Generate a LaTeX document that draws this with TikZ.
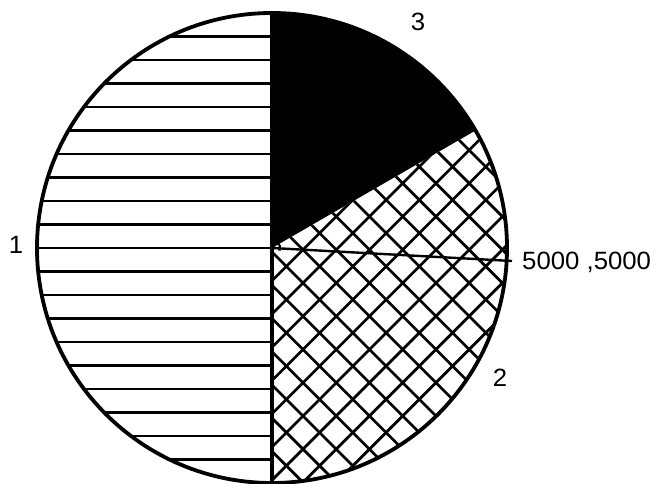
\documentclass[tikz,border=0pt]{standalone}
\usepackage{fontspec}
\setmainfont{Liberation Sans}
\usetikzlibrary{calc}
\begin{document}
\begin{tikzpicture}[x=1pt,y=1pt,
  hatch/.style={line width=2.7pt,black},
  lbl/.style={font=\fontsize{25}{25}\selectfont\addfontfeature{FakeStretch=1.03},inner sep=0pt}]
\useasboundingbox (0,0) rectangle (661,484);
\coordinate (O) at (272,236);
% black sector
\fill[black] (O) -- (272,471) arc[start angle=90,end angle=30,radius=235] -- cycle;
% horizontal stripes, left half
\begin{scope}
  \clip (O) -- (272,471) arc[start angle=90,end angle=270,radius=235] -- cycle;
  \foreach \k in {-10,...,10} {
    \draw[hatch] (30,{236+\k*23.5}) -- (280,{236+\k*23.5});
  }
\end{scope}
% cross hatch sector
\begin{scope}
  \clip (O) -- ($(O)+(30:235)$) arc[start angle=30,end angle=-90,radius=235] -- cycle;
  \foreach \i in {-9,...,15} {
    \draw[hatch] ({102+\i*33.23-10},-10) -- ({102+\i*33.23+500},500);
    \draw[hatch] ({504+\i*33.23+10},-10) -- ({504+\i*33.23-500},500);
  }
\end{scope}
% outlines
\draw[line width=3.8pt] (O) circle[radius=235];
\draw[line width=3.2pt] (272,471) -- (272,1);
% pointer
\coordinate (tip) at (512,223);
\draw[line width=2.4pt] (O) -- (tip);
\draw[line width=2.2pt] ($(O)+(75:8)$) arc[start angle=75,end angle=-20,radius=8];
% labels
\node[lbl,anchor=west] (v) at (522,222) {5000 ,5000};
\node[lbl] (n3) at (418,462) {3};
\node[lbl] (n1) at (16,239) {1};
\node[lbl] (n2) at (500,106) {2};
\end{tikzpicture}
\end{document}
